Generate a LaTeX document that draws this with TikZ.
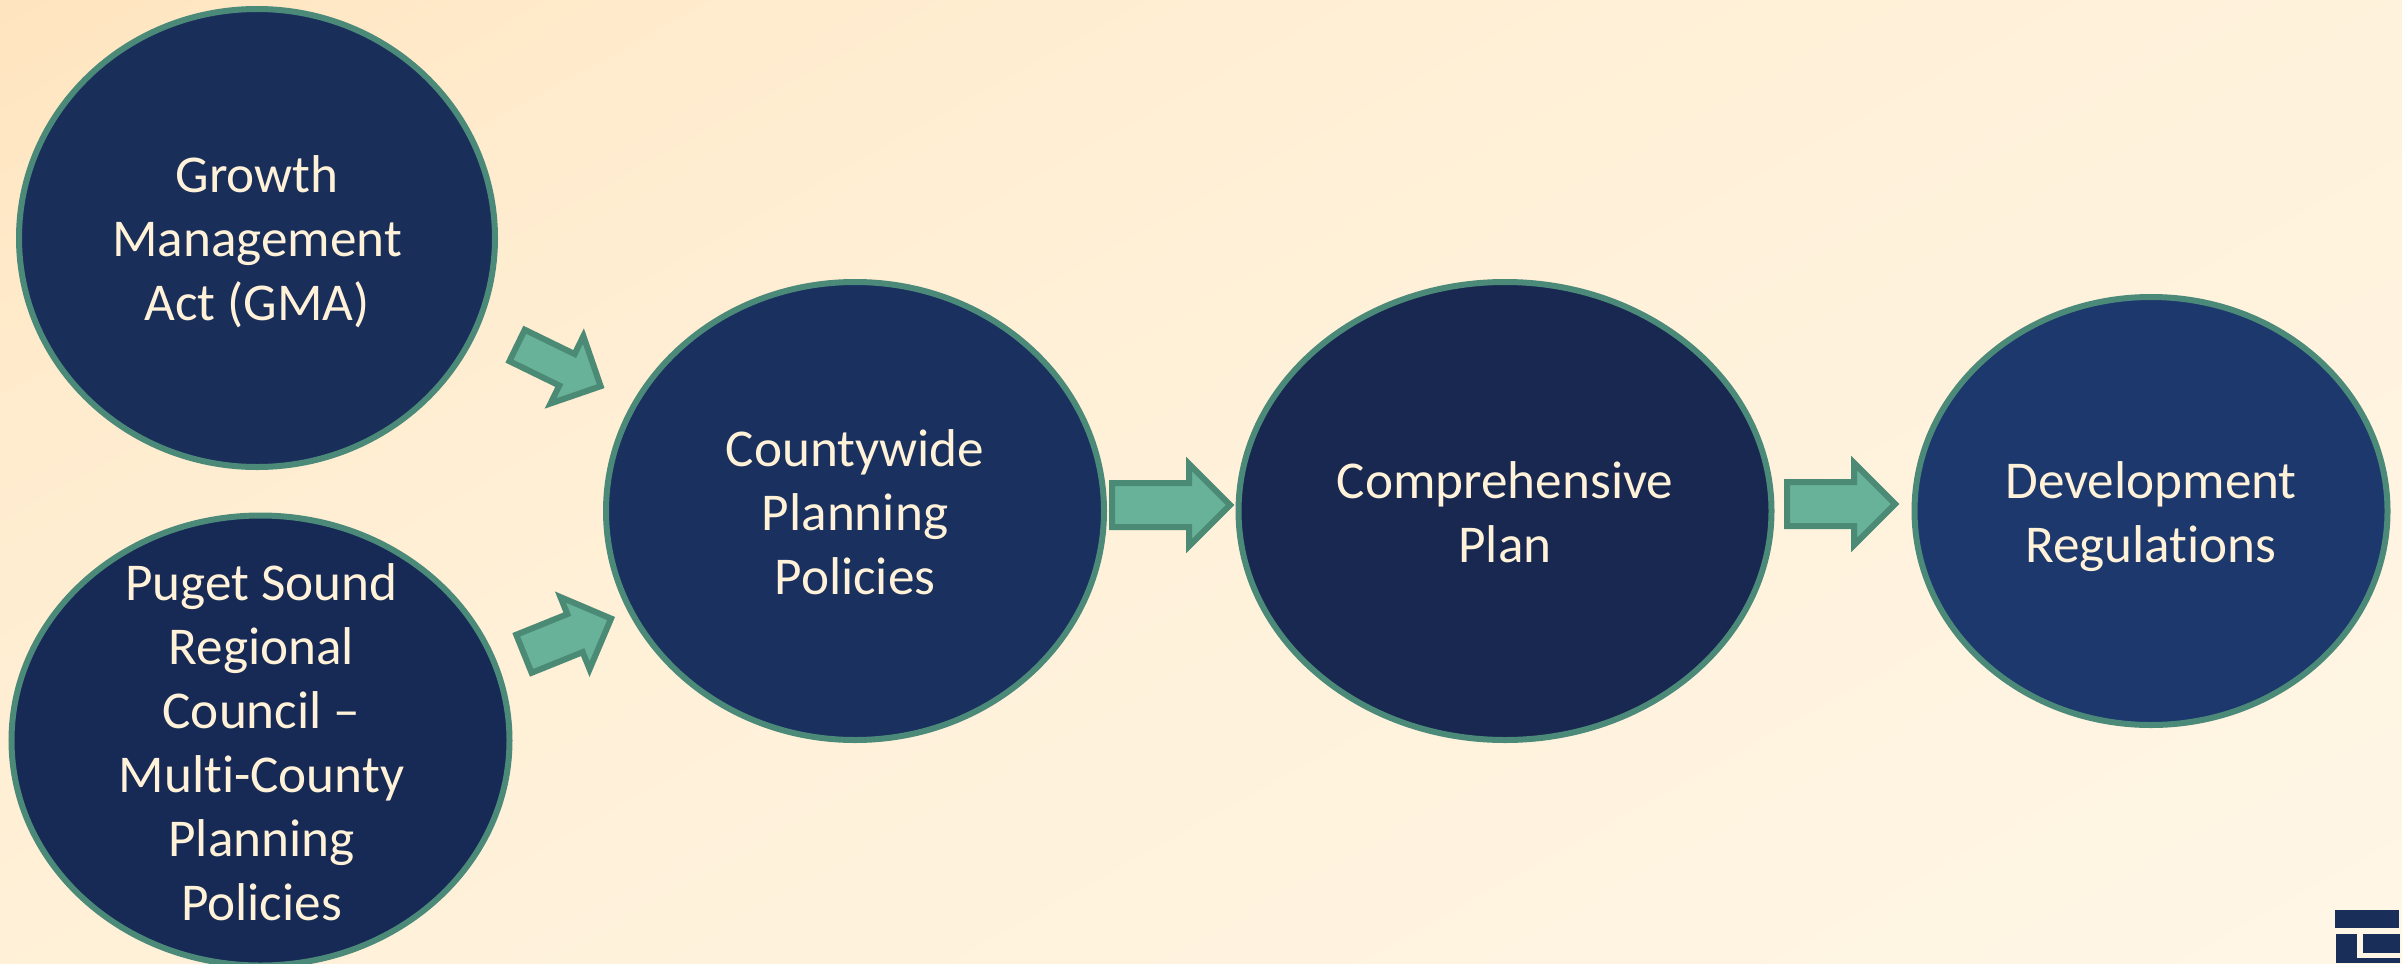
\documentclass[tikz,border=0pt]{standalone}
\usepackage{fontspec}
\setmainfont[RawFeature={-liga;-clig;-dlig}]{Carlito}
\usetikzlibrary{shapes.geometric,shapes.arrows}
\definecolor{ringc}{HTML}{4B8A78}
\definecolor{inkc}{HTML}{FFF2D8}
\definecolor{arrowfill}{HTML}{68B29A}
\definecolor{arrowline}{HTML}{4B8A74}
\definecolor{logoc}{HTML}{1A2E5A}
\definecolor{navya}{HTML}{1A2E5A}
\definecolor{navyb}{HTML}{172A55}
\definecolor{navyc}{HTML}{1A305E}
\definecolor{navyd}{HTML}{182850}
\definecolor{navye}{HTML}{1D386C}
\definecolor{c0}{HTML}{FFE5BF}
\definecolor{c1}{HTML}{FFECCF}
\definecolor{c2}{HTML}{FFF0D7}
\definecolor{c3}{HTML}{FFF6E6}
\pgfdeclarehorizontalshading{bgshade}{100bp}{color(0bp)=(c0); color(33.4bp)=(c0); color(40bp)=(c1); color(46.7bp)=(c2); color(66.6bp)=(c3); color(100bp)=(c3)}
\tikzset{
  bubble/.style={ellipse,draw=ringc,line width=3pt,inner sep=0pt,outer sep=0pt},
  bubbletext/.style={text=inkc,align=center,inner sep=0pt,font=\fontsize{26.6}{32}\selectfont},
  blockarrow/.style={single arrow,draw=arrowline,fill=arrowfill,line width=3pt,
    inner sep=0pt,outer sep=0pt,miter limit=10},
}
\begin{document}
\begin{tikzpicture}[x=0.5pt,y=-0.5pt]
\useasboundingbox (0,0) rectangle (2402,963);
\begin{scope}
\clip (0,0) rectangle (2402,963);
\shade[shading=bgshade,shading angle=-61] (-299,-1018.5) rectangle (2701,1981.5);
\node[bubble,fill=navya,minimum width=238pt,minimum height=229pt] (gma) at (257,238) {};
\node[bubbletext,yshift=-2pt] (gmat) at (gma.center) {Growth\\Management\\Act (GMA)};
\node[bubble,fill=navyb,minimum width=249pt,minimum height=225pt] (psrc) at (260.5,740.5) {};
\node[bubbletext,xshift=0.5pt,yshift=-1pt] (psrct) at (psrc.center) {Puget Sound\\Regional\\Council –\\Multi-County\\Planning\\Policies};
\node[bubble,fill=navyc,minimum width=249pt,minimum height=229pt] (cpp) at (855,511) {};
\node[bubbletext,yshift=-0.5pt] (cppt) at (cpp.center) {Countywide\\Planning\\Policies};
\node[bubble,fill=navyd,minimum width=266.5pt,minimum height=229pt] (plan) at (1505,511) {};
\node[bubbletext,yshift=-0.5pt] (plant) at (plan.center) {Comprehensive\\Plan};
\node[bubble,fill=navye,minimum width=236.5pt,minimum height=214pt] (regs) at (2151,511) {};
\node[bubbletext,yshift=-3pt] (regst) at (regs.center) {Development\\Regulations};
\node[blockarrow,minimum height=46.5pt,single arrow head extend=10pt,rotate=-26] (a1) at (551,362) {\rule{0pt}{14.5pt}};
\node[blockarrow,minimum height=47pt,single arrow head extend=9.2pt,rotate=22] (a2) at (558,640) {\rule{0pt}{17.5pt}};
\node[blockarrow,minimum height=59pt,single arrow head extend=9.5pt] (a3) at (1160,505) {\rule{0pt}{19pt}};
\node[blockarrow,minimum height=54pt,single arrow head extend=9.5pt] (a4) at (1830,504) {\rule{0pt}{19pt}};
\fill[logoc] (2335,910) rectangle (2399,928);
\fill[logoc] (2336,934) rectangle (2357,963);
\fill[logoc] (2363,934) rectangle (2400,953);
\fill[logoc] (2357,958) rectangle (2400,963);
\end{scope}
\end{tikzpicture}
\end{document}
